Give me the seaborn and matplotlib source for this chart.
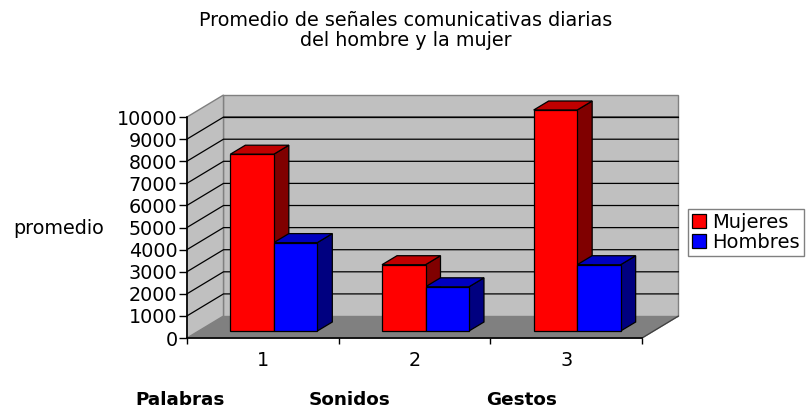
import pandas as pd
import matplotlib
matplotlib.use("Agg")
import matplotlib.pyplot as plt
import seaborn as sns
from matplotlib.patches import Polygon

grupos = ["1", "2", "3"]
mujeres = [8000, 3000, 10000]
hombres = [4000, 2000, 3000]
categorias = ["Palabras", "Sonidos", "Gestos"]
yticks = list(range(0, 11000, 1000))

W, H = 808, 408
AX_X0, AX_X1, AX_Y0, AX_Y1 = 187, 642, 338, 117

sns.set_style("white")
plt.rcParams["font.family"] = ["DejaVu Sans"]

df = pd.DataFrame({
    "grupo": grupos * 2,
    "valor": mujeres + hombres,
    "serie": ["Mujeres"] * 3 + ["Hombres"] * 3,
})

fig = plt.figure(figsize=(W / 100, H / 100), dpi=100)


def box(dx, dy):
    return [(AX_X0 + dx) / W, (H - AX_Y0 + dy) / H, (AX_X1 - AX_X0) / W, (AX_Y0 - AX_Y1) / H]


# front plane holds the ticks, second axes holds the bars a bit further back
ax = fig.add_axes(box(0, 0))
ax_bars = fig.add_axes(box(11, 7))
ax_bars.patch.set_visible(False)

ax.set_xlim(-0.5, 2.5)
ax.set_ylim(0, 10000)

# depth of the box in data units
DX, DY = 36.5 / 151.7, 995


def poly(a, pts, face, edge, z, lw=1.0):
    a.add_patch(Polygon(pts, closed=True, facecolor=face, edgecolor=edge,
                        linewidth=lw, zorder=z, clip_on=False, joinstyle="miter"))


# walls and floor
poly(ax, [(-0.5, 0), (2.5, 0), (2.5 + DX, DY), (-0.5 + DX, DY)], "#808080", "#808080", 0.1)
poly(ax, [(-0.5 + DX, DY), (2.5 + DX, DY), (2.5 + DX, 10000 + DY), (-0.5 + DX, 10000 + DY)],
     "#c0c0c0", "#808080", 0.2)
poly(ax, [(-0.5, 0), (-0.5 + DX, DY), (-0.5 + DX, 10000 + DY), (-0.5, 10000)],
     "#c0c0c0", "#808080", 0.2)
ax.plot([2.5, 2.5 + DX], [0, DY], color="#404040", lw=0.9, clip_on=False, zorder=0.3)

for v in yticks[1:-1]:
    ax.plot([-0.5, -0.5 + DX, 2.5 + DX], [v, v + DY, v + DY], color="black", lw=0.9,
            clip_on=False, zorder=0.3, solid_joinstyle="miter")
ax.plot([-0.5 + DX, 2.5 + DX], [10000, 10000], color="black", lw=0.9,
        clip_on=False, zorder=0.3)

# bars
sns.barplot(data=df, x="grupo", y="valor", hue="serie", order=grupos,
            hue_order=["Mujeres", "Hombres"], palette=["#ff0000", "#0000ff"],
            width=87 / 151.7, gap=0, edgecolor="black", linewidth=0.9, saturation=1,
            ax=ax_bars)
ax_bars.set_xlim(-0.5, 2.5)
ax_bars.set_ylim(0, 10000)

bx, by = 15 / 151.7, 407
tonos = [("#c00000", "#800000"), ("#0000c0", "#000080")]
for i, cont in enumerate(ax_bars.containers):
    for p in cont.patches:
        x0, x1, h = p.get_x(), p.get_x() + p.get_width(), p.get_height()
        poly(ax_bars, [(x1, 0), (x1 + bx, by), (x1 + bx, h + by), (x1, h)], tonos[i][1], "black", 0.5 + i * 0.1, 0.9)
        poly(ax_bars, [(x0, h), (x1, h), (x1 + bx, h + by), (x0 + bx, h + by)], tonos[i][0], "black", 0.5 + i * 0.1, 0.9)
        p.set_clip_on(False)

handles, labels = ax_bars.get_legend_handles_labels()
ax_bars.legend(handles, labels, loc="upper left",
               bbox_to_anchor=(688 / W, (H - 209) / H), bbox_transform=fig.transFigure,
               frameon=True, fancybox=False, framealpha=1, edgecolor="#808080", labelcolor="black",
               fontsize=14, handlelength=0.72, handleheight=0.72, handletextpad=0.32,
               labelspacing=0.06, borderpad=0.2, borderaxespad=0)
ax_bars.axis("off")

# axis of the front plane
ax.patch.set_visible(False)
for s in ["top", "right"]:
    ax.spines[s].set_visible(False)
for s in ["left", "bottom"]:
    ax.spines[s].set_color("black")
    ax.spines[s].set_linewidth(1.2)
    ax.spines[s].set_zorder(0.4)
ax.set_yticks(yticks)
ax.set_yticklabels([str(v) for v in yticks])
ax.set_xticks([0, 1, 2])
ax.set_xticklabels(grupos)
ax.set_xticks([-0.5, 0.5, 1.5, 2.5], minor=True)
ax.tick_params(axis="y", length=5.5, width=1.0, color="black", labelsize=13.8, labelcolor="black", pad=1.4, left=True)
ax.tick_params(axis="x", which="major", length=0, labelsize=13.8, labelcolor="black", pad=9)
ax.tick_params(axis="x", which="minor", length=4.5, width=1.0, color="black", bottom=True)

fig.text(406 / W, (H - 30.5) / H, "Promedio de señales comunicativas diarias\ndel hombre y la mujer",
         ha="center", va="center", fontsize=13.8, color="black", linespacing=1.1)
fig.text(58.5 / W, (H - 228) / H, "promedio", ha="center", va="center", fontsize=13.8, color="black")
for nombre, x in zip(categorias, [180, 350, 522]):
    fig.text(x / W, (H - 400) / H, nombre, ha="center", va="center", fontsize=13.2,
             fontweight="bold", color="black")

fig.savefig("out.png", dpi=100)
